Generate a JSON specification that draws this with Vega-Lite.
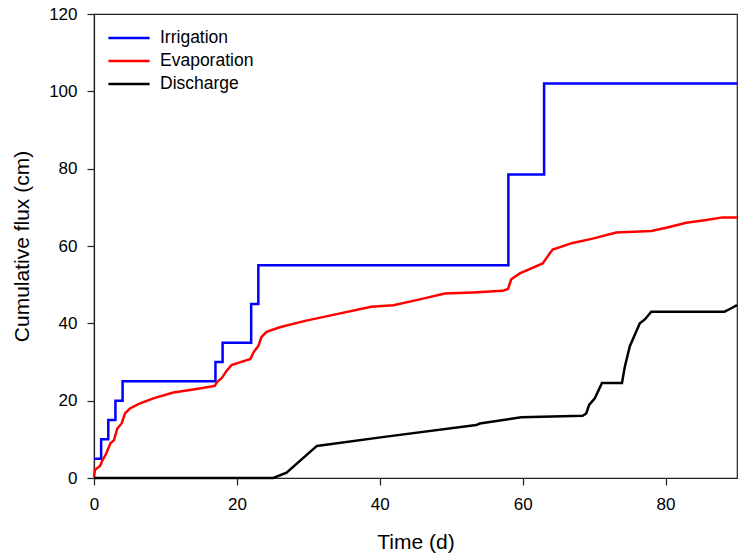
{
  "$schema": "https://vega.github.io/schema/vega-lite/v6.json",
  "width": 643,
  "height": 464,
  "autosize": {"type": "none"},
  "padding": {"left": 94, "top": 14, "right": 2, "bottom": 81},
  "background": "white",
  "config": {
    "font": "Liberation Sans",
    "view": {"stroke": "#222", "strokeWidth": 1.2},
    "axis": {"grid": false, "labelFlush": false, "domainColor": "#222", "tickColor": "#222", "domainWidth": 1.2, "tickWidth": 1.2, "tickSize": 7, "labelFontSize": 17, "labelColor": "#000", "titleFontSize": 21, "titleFontWeight": "normal", "titleColor": "#000", "labelFont": "Liberation Sans", "titleFont": "Liberation Sans"}
  },
  "data": {"values": [
    {"s": "Irrigation", "t": 0, "v": 5},
    {"s": "Irrigation", "t": 1, "v": 10},
    {"s": "Irrigation", "t": 2, "v": 15},
    {"s": "Irrigation", "t": 3, "v": 20},
    {"s": "Irrigation", "t": 4, "v": 25},
    {"s": "Irrigation", "t": 17, "v": 30},
    {"s": "Irrigation", "t": 18, "v": 35},
    {"s": "Irrigation", "t": 22, "v": 45},
    {"s": "Irrigation", "t": 23, "v": 55},
    {"s": "Irrigation", "t": 58, "v": 78.5},
    {"s": "Irrigation", "t": 63, "v": 102},
    {"s": "Irrigation", "t": 90, "v": 102},
    {"s": "Evaporation", "t": 0, "v": 0.3},
    {"s": "Evaporation", "t": 0.14, "v": 2.1},
    {"s": "Evaporation", "t": 0.84, "v": 3.1},
    {"s": "Evaporation", "t": 1.2, "v": 4.65},
    {"s": "Evaporation", "t": 1.68, "v": 6.2},
    {"s": "Evaporation", "t": 2.3, "v": 9.0},
    {"s": "Evaporation", "t": 2.8, "v": 9.8},
    {"s": "Evaporation", "t": 3.26, "v": 12.8},
    {"s": "Evaporation", "t": 3.87, "v": 14.1},
    {"s": "Evaporation", "t": 4.34, "v": 16.7},
    {"s": "Evaporation", "t": 5.03, "v": 18.0},
    {"s": "Evaporation", "t": 6.2, "v": 19.1},
    {"s": "Evaporation", "t": 8.3, "v": 20.6},
    {"s": "Evaporation", "t": 11.1, "v": 22.1},
    {"s": "Evaporation", "t": 13.9, "v": 22.9},
    {"s": "Evaporation", "t": 16.9, "v": 23.8},
    {"s": "Evaporation", "t": 17.25, "v": 24.9},
    {"s": "Evaporation", "t": 17.9, "v": 25.9},
    {"s": "Evaporation", "t": 18.55, "v": 27.7},
    {"s": "Evaporation", "t": 19.25, "v": 29.2},
    {"s": "Evaporation", "t": 20.4, "v": 29.9},
    {"s": "Evaporation", "t": 21.9, "v": 30.8},
    {"s": "Evaporation", "t": 22.4, "v": 32.7},
    {"s": "Evaporation", "t": 23.0, "v": 34.1},
    {"s": "Evaporation", "t": 23.45, "v": 36.5},
    {"s": "Evaporation", "t": 24.15, "v": 37.8},
    {"s": "Evaporation", "t": 26.0, "v": 39.0},
    {"s": "Evaporation", "t": 29.7, "v": 40.7},
    {"s": "Evaporation", "t": 33.0, "v": 42.0},
    {"s": "Evaporation", "t": 38.8, "v": 44.3},
    {"s": "Evaporation", "t": 41.9, "v": 44.7},
    {"s": "Evaporation", "t": 45.6, "v": 46.2},
    {"s": "Evaporation", "t": 49.1, "v": 47.7},
    {"s": "Evaporation", "t": 53.0, "v": 48.0},
    {"s": "Evaporation", "t": 57.2, "v": 48.4},
    {"s": "Evaporation", "t": 57.95, "v": 48.9},
    {"s": "Evaporation", "t": 58.4, "v": 51.4},
    {"s": "Evaporation", "t": 59.6, "v": 52.9},
    {"s": "Evaporation", "t": 62.8, "v": 55.5},
    {"s": "Evaporation", "t": 63.3, "v": 56.8},
    {"s": "Evaporation", "t": 63.8, "v": 58.1},
    {"s": "Evaporation", "t": 64.2, "v": 59.1},
    {"s": "Evaporation", "t": 67.0, "v": 60.8},
    {"s": "Evaporation", "t": 69.8, "v": 61.9},
    {"s": "Evaporation", "t": 73.1, "v": 63.5},
    {"s": "Evaporation", "t": 78.0, "v": 63.9},
    {"s": "Evaporation", "t": 80.1, "v": 64.7},
    {"s": "Evaporation", "t": 82.9, "v": 66.0},
    {"s": "Evaporation", "t": 85.7, "v": 66.7},
    {"s": "Evaporation", "t": 88.0, "v": 67.4},
    {"s": "Evaporation", "t": 90, "v": 67.4},
    {"s": "Discharge", "t": 0, "v": 0},
    {"s": "Discharge", "t": 25.1, "v": 0},
    {"s": "Discharge", "t": 26.95, "v": 1.4},
    {"s": "Discharge", "t": 31.2, "v": 8.3},
    {"s": "Discharge", "t": 40.9, "v": 10.7},
    {"s": "Discharge", "t": 53.5, "v": 13.7},
    {"s": "Discharge", "t": 54.0, "v": 14.1},
    {"s": "Discharge", "t": 59.8, "v": 15.7},
    {"s": "Discharge", "t": 68.4, "v": 16.1},
    {"s": "Discharge", "t": 68.9, "v": 16.7},
    {"s": "Discharge", "t": 69.3, "v": 18.9},
    {"s": "Discharge", "t": 70.1, "v": 20.6},
    {"s": "Discharge", "t": 71.1, "v": 24.6},
    {"s": "Discharge", "t": 73.9, "v": 24.6},
    {"s": "Discharge", "t": 74.3, "v": 28.8},
    {"s": "Discharge", "t": 75.0, "v": 34.1},
    {"s": "Discharge", "t": 76.4, "v": 40.0},
    {"s": "Discharge", "t": 77.1, "v": 41.0},
    {"s": "Discharge", "t": 78.0, "v": 43.0},
    {"s": "Discharge", "t": 88.25, "v": 43.0},
    {"s": "Discharge", "t": 89.2, "v": 43.9},
    {"s": "Discharge", "t": 90, "v": 44.7}
  ]},
  "encoding": {
    "x": {"field": "t", "type": "quantitative", "title": "Time (d)", "scale": {"domain": [0, 90], "nice": false, "zero": false}, "axis": {"values": [0, 20, 40, 60, 80], "labelPadding": 11, "titlePadding": 19}},
    "y": {"field": "v", "type": "quantitative", "title": "Cumulative flux (cm)", "scale": {"domain": [0, 120], "nice": false}, "axis": {"values": [0, 20, 40, 60, 80, 100, 120], "labelPadding": 10, "titlePadding": 16}},
    "color": {"field": "s", "type": "nominal", "title": null,
      "scale": {"domain": ["Irrigation", "Evaporation", "Discharge"], "range": ["#0000ff", "#ff0000", "#000000"]},
      "legend": {"orient": "none", "legendX": 13, "legendY": 12.5, "symbolType": "stroke", "symbolSize": 1700, "symbolStrokeWidth": 2.5, "clipHeight": 23, "rowPadding": 0, "labelFontSize": 17.5, "labelColor": "#000", "labelOffset": 9, "labelFont": "Liberation Sans"}
    }
  },
  "layer": [
    {"transform": [{"filter": "datum.s === 'Irrigation'"}], "mark": {"type": "line", "interpolate": "step-after", "strokeWidth": 2.5}},
    {"transform": [{"filter": "datum.s !== 'Irrigation'"}], "mark": {"type": "line", "strokeWidth": 2.5}}
  ]
}
